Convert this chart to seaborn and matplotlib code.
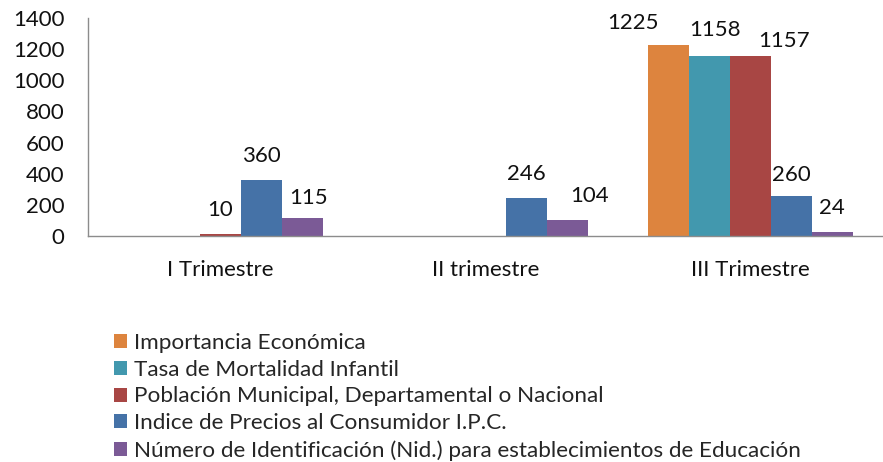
import matplotlib
matplotlib.use("Agg")
import matplotlib.pyplot as plt
import seaborn as sns
import pandas as pd
from matplotlib.patches import Patch

# data
trimestres = ["I Trimestre", "II trimestre", "III Trimestre"]
series = [
    "Importancia Económica",
    "Tasa de Mortalidad Infantil",
    "Población Municipal, Departamental o Nacional",
    "Indice de Precios al Consumidor I.P.C.",
    "Número de Identificación (Nid.) para establecimientos de Educación",
]
importancia = [0, 0, 1225]
mortalidad = [0, 0, 1158]
poblacion = [10, 0, 1157]
ipc = [360, 246, 260]
nid = [115, 104, 24]

colors = ["#DD843E", "#4298AE", "#A84644", "#4572A7", "#7B5A96"]

# label nudges in pixels (Excel moved a few labels to avoid overlaps)
label_nudge = {
    (0, 4): (6, 4),
    (1, 4): (22, 0),
    (2, 0): (-36, 2),
    (2, 1): (5, -2),
    (2, 2): (34, 9),
    (2, 3): (0, 3),
}

values = [importancia, mortalidad, poblacion, ipc, nid]
df = pd.DataFrame(
    [(t, s, v[i]) for s, v in zip(series, values) for i, t in enumerate(trimestres)],
    columns=["trimestre", "serie", "valor"],
)

sns.set_style("white")
plt.rcParams["font.family"] = ["Lato", "DejaVu Sans"]

W, H = 883, 462
fig = plt.figure(figsize=(W / 100, H / 100), dpi=100)
ax = fig.add_axes([88 / W, 1 - 236 / H, (883 - 88) / W, (236 - 18) / H])

sns.barplot(
    data=df, x="trimestre", y="valor", hue="serie", order=trimestres,
    hue_order=series, palette=colors, width=0.77, gap=0, saturation=1,
    ax=ax, legend=False,
)
for cont in ax.containers:
    for p in cont:
        p.set_edgecolor("none")

ax.set_ylim(0, 1400)
ax.set_xlim(-0.5, 2.5)
ax.set_yticks(range(0, 1401, 200))
ax.set_xlabel("")
ax.set_ylabel("")

for s in ["top", "right"]:
    ax.spines[s].set_visible(False)
for s in ["left", "bottom"]:
    ax.spines[s].set_color("#8c8c8c")
    ax.spines[s].set_linewidth(1)

ax.tick_params(axis="y", length=5, color="#8c8c8c", labelsize=16, pad=12, labelcolor="#111111")
ax.tick_params(axis="x", which="major", length=0, labelsize=16, pad=17, labelcolor="#111111")
ax.set_xticks([-0.5, 0.5, 1.5, 2.5], minor=True)
ax.tick_params(axis="x", which="minor", length=7, color="#8c8c8c")

# data labels above the non-zero bars
for si, cont in enumerate(ax.containers):
    for ti, p in enumerate(cont):
        h = p.get_height()
        if h <= 0:
            continue
        dx, dy = label_nudge.get((ti, si), (0, 0))
        ax.annotate(
            f"{h:.0f}", (p.get_x() + p.get_width() / 2, h),
            xytext=(dx * 0.72, (24 - dy) * 0.72), textcoords="offset points",
            ha="center", va="center", fontsize=16, color="#111111",
        )

handles = [Patch(facecolor=c, edgecolor="none") for c in colors]
fig.legend(
    handles, series, loc="upper left", bbox_to_anchor=(114 / W, 1 - 333 / H),
    frameon=False, fontsize=16.2, handlelength=0.58, handleheight=0.58,
    handletextpad=0.3, labelspacing=0.3, borderpad=0, borderaxespad=0,
)

fig.savefig("out.png", dpi=100)
